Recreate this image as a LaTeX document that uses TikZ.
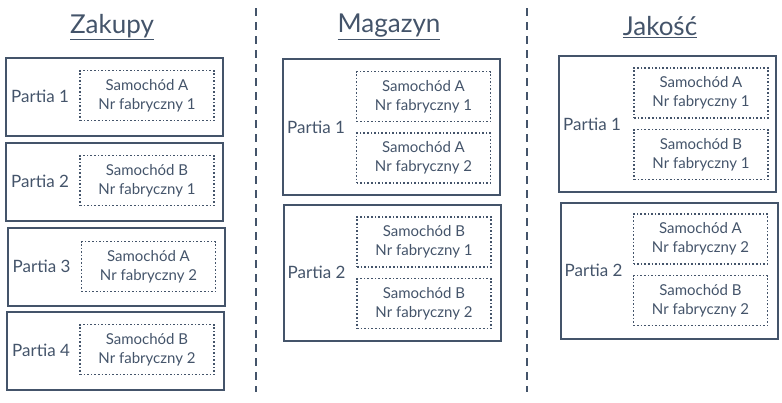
\documentclass[tikz,border=0pt]{standalone}
\usepackage{fontspec}
\setmainfont{Lato}
\usetikzlibrary{positioning}
\definecolor{slate}{HTML}{44546A}
\tikzstyle{title} = [
	text=slate,
	font=\fontsize{26}{30}\selectfont
]
\tikzstyle{batch} = [
	rectangle,
	minimum width=217pt,
	minimum height=78pt,
	draw=slate,
	line width=2pt
]
\tikzstyle{bigbatch} = [
	batch,
	minimum height=136pt
]
\tikzstyle{car} = [
	rectangle,
	minimum width=134pt,
	minimum height=50pt,
	align=center,
	draw=slate,
	line width=1.6pt,
	dash pattern=on 1.6pt off 2pt,
	text=slate,
	font=\fontsize{15}{19}\selectfont
]
\tikzstyle{batchlabel} = [
	anchor=west,
	inner sep=0pt,
	text=slate,
	font=\fontsize{17}{19}\selectfont
]
\tikzstyle{divider} = [draw=slate, line width=2pt, dash pattern=on 8pt off 6pt]

\begin{document}
\begin{tikzpicture}[x=1pt, y=-1pt, node distance=10pt]

		\useasboundingbox (0,0) rectangle (782,402);

		% titles
		\node (zakupy) [title] at (112,27) {\underline{Zakupy}};
		\node (magazyn) [title] at (389,27) {\underline{Magazyn}};
		\node (jakosc) [title] at (660,27) {\underline{Jakość}};

		% dividers
		\coordinate (divatop) at (256,8);
		\coordinate (divabot) at (256,392);
		\coordinate (divbtop) at (527,8);
		\coordinate (divbbot) at (527,392);
		\draw [divider] (divatop) -- (divabot);
		\draw [divider] (divbtop) -- (divbbot);

		% Zakupy
		\node (zpartia1) [batch] at (114.5,96.5) {};
		\node (zpartia2) [batch] at (114.5,181.5) {};
		\node (zpartia3) [batch] at (116,266.5) {};
		\node (zpartia4) [batch] at (115.5,350.5) {};

		\node (zlabel1) [batchlabel] at ([xshift=6pt]zpartia1.west) {Partia 1};
		\node (zlabel2) [batchlabel] at ([xshift=6pt]zpartia2.west) {Partia 2};
		\node (zlabel3) [batchlabel] at ([xshift=6pt]zpartia3.west) {Partia 3};
		\node (zlabel4) [batchlabel] at ([xshift=6pt]zpartia4.west) {Partia 4};

		\node (zcar1) [car] at (147,95.5) {Samochód A\\Nr fabryczny 1};
		\node (zcar2) [car] at (147,180.5) {Samochód B\\Nr fabryczny 1};
		\node (zcar3) [car] at (148.5,266.5) {Samochód A\\Nr fabryczny 2};
		\node (zcar4) [car] at (147,349.5) {Samochód B\\Nr fabryczny 2};

		% Magazyn
		\node (mpartia1) [bigbatch] at (391.5,127) {};
		\node (mpartia2) [bigbatch] at (392,272.5) {};

		\node (mlabel1) [batchlabel] at ([xshift=5pt]mpartia1.west) {Partia 1};
		\node (mlabel2) [batchlabel] at ([xshift=5pt]mpartia2.west) {Partia 2};

		\node (mcar1) [car] at (423.5,96.5) {Samochód A\\Nr fabryczny 1};
		\node (mcar2) [car, below=of mcar1] {Samochód A\\Nr fabryczny 2};
		\node (mcar3) [car] at (424,242) {Samochód B\\Nr fabryczny 1};
		\node (mcar4) [car, below=of mcar3] {Samochód B\\Nr fabryczny 2};

		% Jakosc
		\node (jpartia1) [bigbatch] at (667.5,124) {};
		\node (jpartia2) [bigbatch] at (669,270.5) {};

		\node (jlabel1) [batchlabel] at ([xshift=5pt]jpartia1.west) {Partia 1};
		\node (jlabel2) [batchlabel] at ([xshift=5pt]jpartia2.west) {Partia 2};

		\node (jcar1) [car] at (701,93) {Samochód A\\Nr fabryczny 1};
		\node (jcar2) [car, below=of jcar1] {Samochód B\\Nr fabryczny 1};
		\node (jcar3) [car] at (700.5,239) {Samochód A\\Nr fabryczny 2};
		\node (jcar4) [car, below=of jcar3] {Samochód B\\Nr fabryczny 2};

	\end{tikzpicture}
\end{document}
